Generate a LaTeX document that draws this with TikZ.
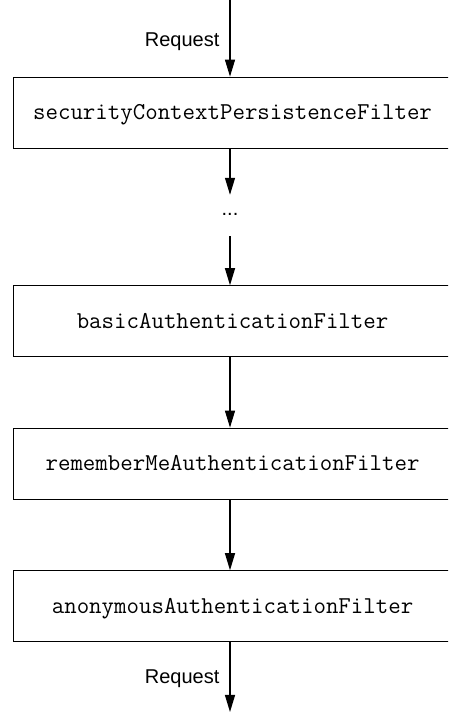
\documentclass[tikz,border=0pt]{standalone}
\usepackage{fontspec}
\newfontfamily\reqfont{Liberation Sans}
\usetikzlibrary{arrows.meta}
\begin{document}
\begin{tikzpicture}[x=1pt,y=1pt,
  filterbox/.style={draw, line width=1.1pt, anchor=west, minimum width=438pt,
    minimum height=71pt, inner xsep=0pt, inner ysep=0pt, text height=14pt,
    text depth=0pt, font=\fontsize{24.2}{28}\selectfont\ttfamily},
  flow/.style={-{Triangle[length=17pt,width=10pt]}, line width=1.2pt},
  lbl/.style={inner sep=0pt, font=\fontsize{20}{24}\selectfont\reqfont}]
\useasboundingbox (0,0) rectangle (448,712);
\clip (0,0) rectangle (448,712);
\coordinate (top) at (230,712);
\coordinate (bot) at (230,0);
\node[filterbox] (b1) at (13,599.3) {securityContextPersistenceFilter};
\node[lbl, minimum height=41pt, text height=0pt, text depth=0pt] (dots) at (230,496.5) {...};
\node[filterbox] (b2) at (13,390.7) {basicAuthenticationFilter};
\node[filterbox] (b3) at (13,248.3) {rememberMeAuthenticationFilter};
\node[filterbox] (b4) at (13,105.7) {anonymousAuthenticationFilter};
\draw[flow] (top) -- node[lbl, pos=0.604, anchor=base east, xshift=-10pt] {Request} (top |- b1.north);
\draw[flow] (b1.south -| top) -- (dots.north);
\draw[flow] (dots.south) -- (b2.north -| top);
\draw[flow] (b2.south -| top) -- (b3.north -| top);
\draw[flow] (b3.south -| top) -- (b4.north -| top);
\draw[flow] (b4.south -| top) -- node[lbl, pos=0.584, anchor=base east, xshift=-10pt] {Request} (bot);
\end{tikzpicture}
\end{document}
